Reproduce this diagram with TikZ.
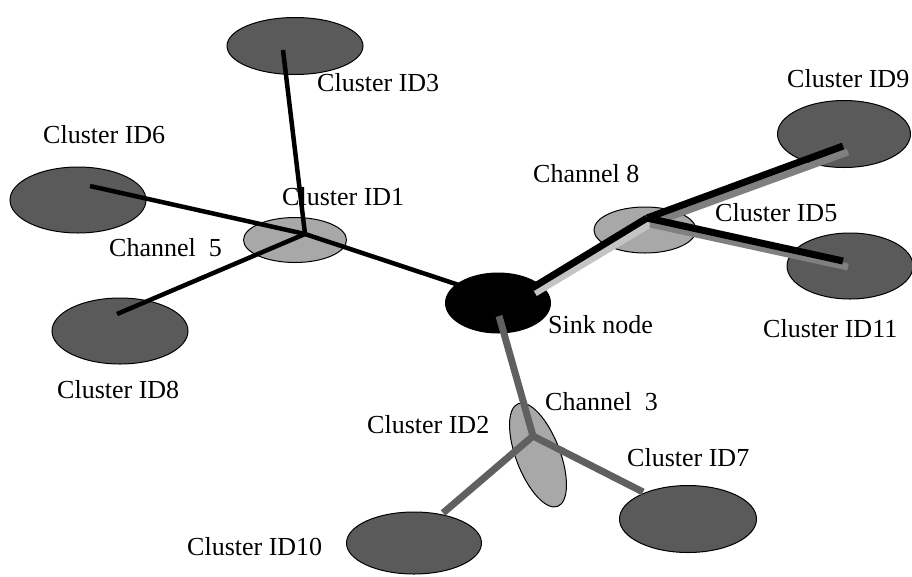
\documentclass[tikz,border=0pt]{standalone}
\usepackage{fontspec}
\setmainfont{Liberation Serif}
\usetikzlibrary{shapes.geometric}
\definecolor{darkcl}{HTML}{5A5A5A}
\definecolor{lightcl}{HTML}{A8A8A8}
\definecolor{shadelight}{HTML}{C4C4C4}
\definecolor{shademid}{HTML}{808080}
\definecolor{bottomline}{HTML}{606060}
\tikzset{
  cluster/.style={ellipse, draw=black, line width=1pt, fill=darkcl, inner sep=0pt},
  hubnode/.style={ellipse, draw=black, line width=1pt, fill=lightcl, inner sep=0pt},
  sinknode/.style={ellipse, fill=black, inner sep=0pt},
  lbl/.style={anchor=base west, inner sep=0pt, font=\fontsize{26}{30}\selectfont},
  thinlink/.style={line width=4.5pt, black},
  thicklink/.style={line width=7pt, black},
  shadowlight/.style={line width=7pt, shadelight},
  shadowmid/.style={line width=7pt, shademid},
  graylink/.style={line width=7pt, bottomline}
}
\begin{document}
\begin{tikzpicture}[x=1pt,y=-1pt]
\useasboundingbox[fill=white] (0,0) rectangle (912,576);
% ellipses
\node[cluster, minimum width=136pt, minimum height=57pt] (id3) at (295,46) {};
\node[cluster, minimum width=136pt, minimum height=66pt] (id6) at (78,200) {};
\node[cluster, minimum width=136pt, minimum height=66pt] (id8) at (120,331) {};
\node[hubnode, minimum width=103pt, minimum height=45pt] (id1) at (295,240) {};
\node[sinknode, minimum width=106pt, minimum height=61pt] (sink) at (498,303) {};
\node[hubnode, minimum width=102pt, minimum height=46pt] (id5) at (645,230) {};
\node[cluster, minimum width=133pt, minimum height=67pt] (id9) at (844,134) {};
\node[cluster, minimum width=126pt, minimum height=66pt] (id11) at (850,266) {};
\node[hubnode, minimum width=44pt, minimum height=110pt, rotate=21] (id2) at (538,455) {};
\node[cluster, minimum width=135pt, minimum height=62pt] (id10) at (414,543) {};
\node[cluster, minimum width=137pt, minimum height=67pt] (id7) at (688,519) {};
% connector end points
\coordinate (h1) at (305,234);
\coordinate (e3) at (283,50);
\coordinate (e6) at (90,186);
\coordinate (e8) at (117,314);
\coordinate (es1) at (492,296);
\coordinate (h5) at (647,218);
\coordinate (h5s) at (650,224);
\coordinate (es5) at (532,288);
\coordinate (es5s) at (535,293);
\coordinate (e9) at (843,146);
\coordinate (e9s) at (848,152);
\coordinate (e11) at (843,261);
\coordinate (e11s) at (848,267);
\coordinate (h2) at (533,436);
\coordinate (es2) at (499,316);
\coordinate (e10) at (443,513);
\coordinate (e7) at (643,492);
% left cluster
\draw[thinlink] (e3) -- (h1);
\draw[thinlink] (e6) -- (h1);
\draw[thinlink] (e8) -- (h1);
\draw[thinlink] (h1) -- (es1);
% right cluster
\draw[shadowlight] (es5s) -- (h5s);
\draw[shadowmid] (h5s) -- (e9s);
\draw[shadowmid] (h5s) -- (e11s);
\draw[thicklink] (es5) -- (h5);
\draw[thicklink] (h5) -- (e9);
\draw[thicklink] (h5) -- (e11);
% bottom cluster
\draw[graylink] (es2) -- (h2);
\draw[graylink] (h2) -- (e10);
\draw[graylink] (h2) -- (e7);
% labels
\node[lbl] (t3) at (317,91) {Cluster ID3};
\node[lbl] (t6) at (43,143) {Cluster ID6};
\node[lbl] (t1) at (282,205) {Cluster ID1};
\node[lbl] (c5) at (109,256) {Channel\ \ 5};
\node[lbl] (t8) at (57,398) {Cluster ID8};
\node[lbl] (c8) at (533,182) {Channel 8};
\node[lbl] (t5) at (715,221) {Cluster ID5};
\node[lbl] (t9) at (787,87) {Cluster ID9};
\node[lbl] (ts) at (548,333) {Sink node};
\node[lbl] (t11) at (763,337) {Cluster ID11};
\node[lbl] (c3) at (545,410) {Channel\ \ 3};
\node[lbl] (t2) at (367,433) {Cluster ID2};
\node[lbl] (t7) at (627,466) {Cluster ID7};
\node[lbl] (t10) at (187,555) {Cluster ID10};
\end{tikzpicture}
\end{document}
